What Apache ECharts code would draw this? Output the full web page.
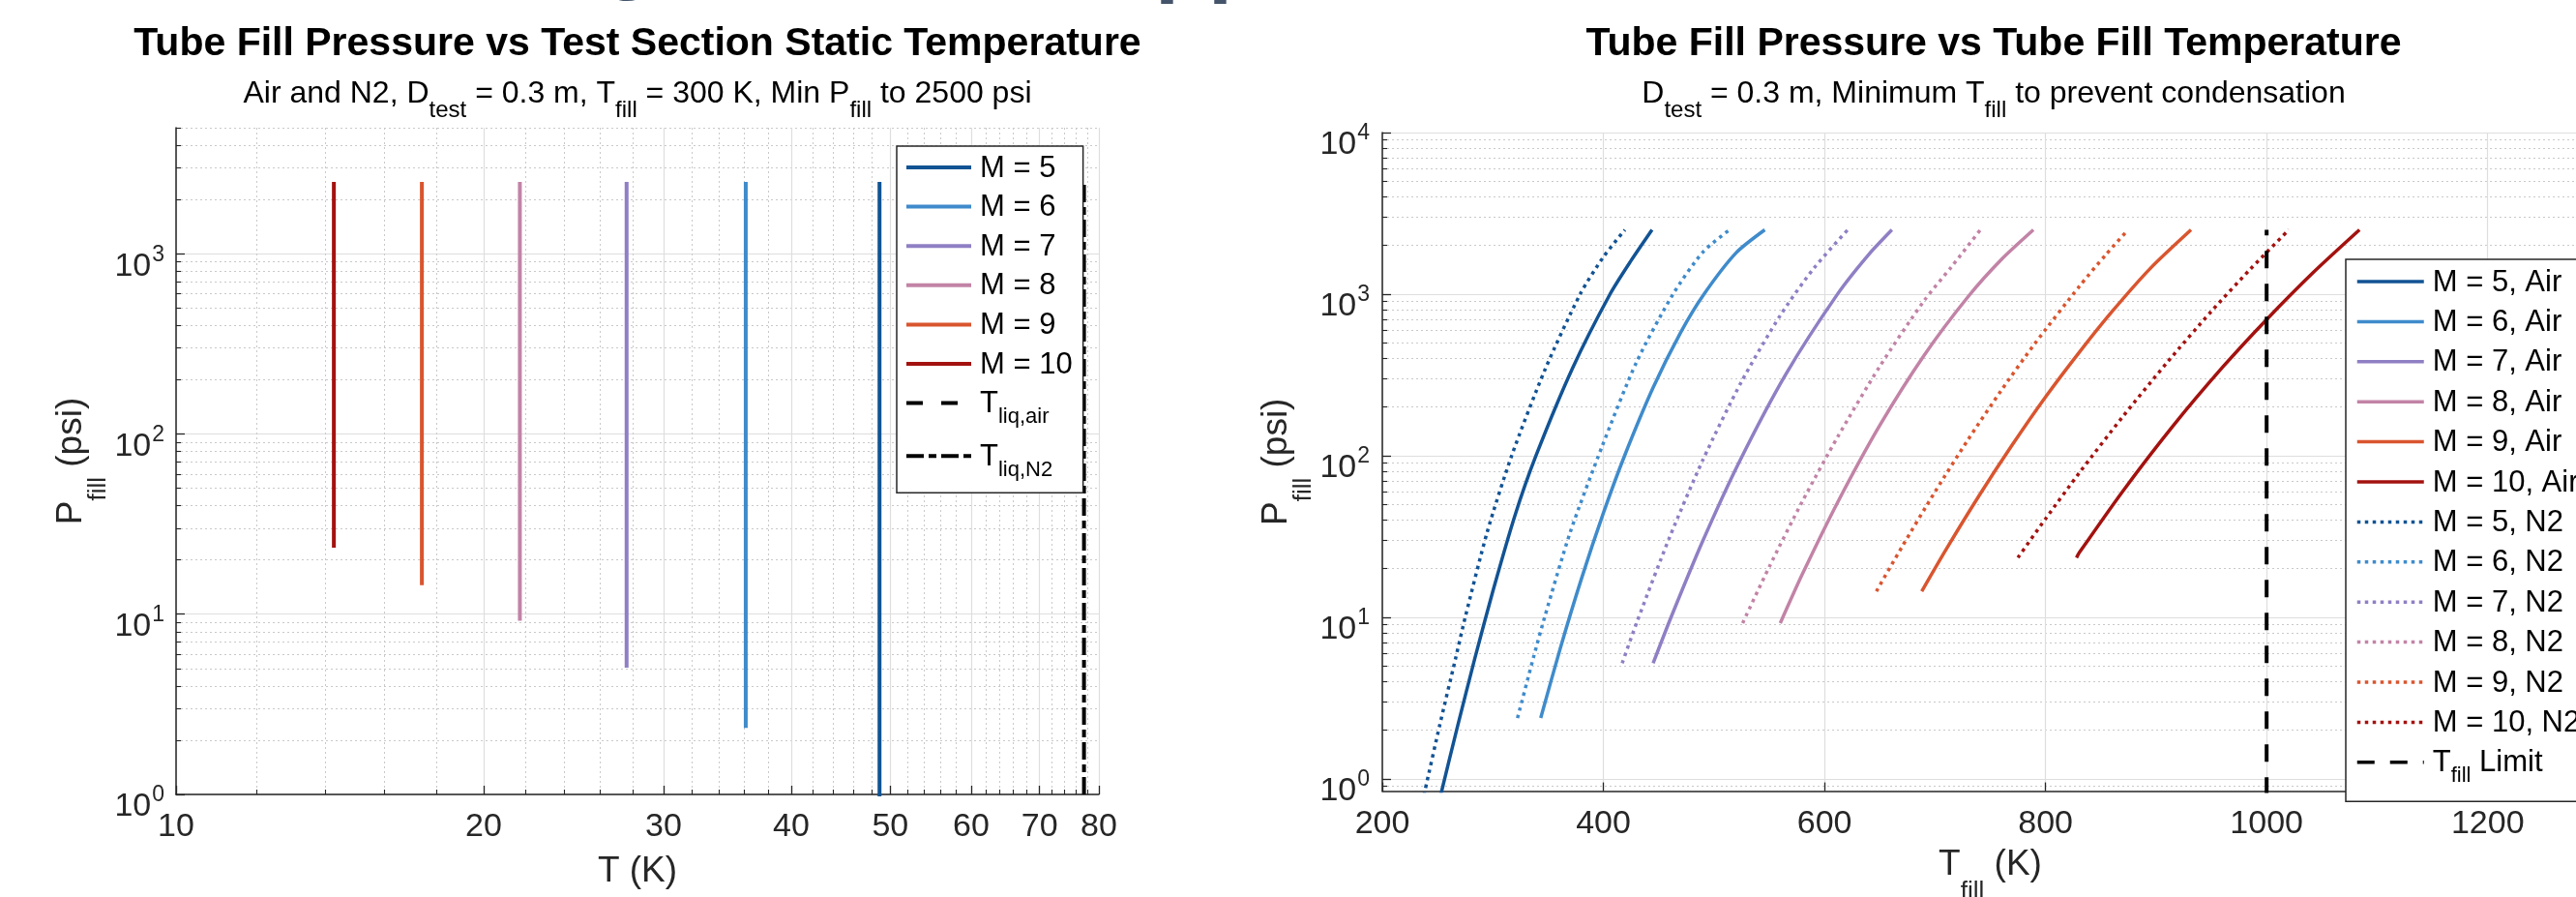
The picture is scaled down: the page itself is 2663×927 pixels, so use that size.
<!DOCTYPE html>
<html><head><meta charset="utf-8">
<script src="https://cdn.jsdelivr.net/npm/echarts@6/dist/echarts.min.js"></script>
<style>html,body{margin:0;padding:0;background:#fff}#c{width:2663px;height:927px}</style>
</head><body><div id="c"></div>
<script>
// ---------------- DATA ----------------
const machNumbers = [5, 6, 7, 8, 9, 10];
const machColors = ['#125394', '#3f8bcb', '#8f7fc4', '#c283a6', '#d9552f', '#a3120f'];
// Left chart: test-section static temperature (K) and fill-pressure range (psi)
const staticT = [48.8, 36.1, 27.6, 21.7, 17.4, 14.27];
const pMinFill = [0.6, 2.34, 5.05, 9.2, 14.5, 23.4];
const pMaxFill = [2500, 2500, 2500, 2500, 2500, 2500];
const tLiqAir = 81.6;
const tLiqN2 = 77.36;
const liqP = [1, 2500];
// Left axes ticks
const leftXMajor = [10, 20, 30, 40, 50, 60, 70, 80];
const leftXMinor = [12, 14, 16, 18, 22, 24, 26, 28, 32, 34, 36, 38, 42, 44, 46, 48, 52, 54, 56, 58, 62, 64, 66, 68, 72, 74, 76, 78];
const leftYMajor = [1, 10, 100, 1000];
const leftYMinor = [2, 3, 4, 5, 6, 7, 8, 9, 20, 30, 40, 50, 60, 70, 80, 90, 200, 300, 400, 500, 600, 700, 800, 900, 2000, 3000, 4000, 5000];

// Right chart: tube fill temperature (K) vs fill pressure (psi)
const m5AirT = [245, 253.7, 268, 283.7, 300, 320, 339, 372, 406, 425, 444];
const m5AirP = [0.475, 0.841, 2.11, 5.57, 14.5, 42.7, 100, 347, 1000, 1611, 2500];
const m6AirT = [343.3, 361, 380, 400, 419, 445, 470, 491, 520, 546];
const m6AirP = [2.38, 6.43, 17.2, 44.2, 99.3, 264, 581, 1000, 1800, 2500];
const m7AirT = [445, 461, 490, 523, 565, 612, 640, 661];
const m7AirP = [5.2, 9.93, 29.8, 91.8, 319, 1005, 1758, 2500];
const m8AirT = [560, 580, 612, 650, 690, 730, 760, 789];
const m8AirP = [9.2, 18.5, 51.6, 154, 417, 966, 1637, 2500];
const m9AirT = [688, 710, 740, 770, 800, 831, 860, 895, 931.6];
const m9AirP = [14.5, 26.3, 56.8, 117, 231, 441, 778, 1449, 2500];
const m10AirT = [828, 831, 870, 915, 960, 1000, 1042, 1084];
const m10AirP = [23.4, 25.4, 60.5, 152, 352, 697, 1358, 2500];
const m5N2T = [230, 238.5, 252, 266.3, 275, 295, 317, 347, 379, 400, 419.5];
const m5N2P = [0.462, 0.841, 2.16, 5.57, 10, 33.9, 100, 339, 1000, 1698, 2500];
const m6N2T = [322.3, 337, 347, 370, 399, 430, 463, 490, 514];
const m6N2P = [2.38, 5.73, 10.1, 33.6, 115, 380, 1000, 1820, 2500];
const m7N2T = [417, 431, 460, 490, 525, 560, 590, 621];
const m7N2P = [5.2, 9.62, 31.4, 94.2, 288, 738, 1436, 2500];
const m8N2T = [526, 550, 580, 612, 650, 690, 715, 741];
const m8N2P = [9.2, 20.5, 52.2, 131, 357, 908, 1479, 2500];
const m9N2T = [647, 670, 700, 730, 760, 790, 830.8, 855, 874.6];
const m9N2P = [14.5, 27.2, 59.8, 126, 254, 491, 1122, 1770, 2500];
const m10N2T = [775, 800, 831, 870, 910, 950, 985, 1020];
const m10N2P = [23.4, 40.7, 79.1, 175, 378, 783, 1422, 2500];
const tFillLimit = 1000;
const limitP = [0.5, 2500];
// Right axes ticks
const rightXMajor = [200, 400, 600, 800, 1000, 1200];
const rightYMajor = [1, 10, 100, 1000, 10000];
const rightYMinor = [0.9, 2, 3, 4, 5, 6, 7, 8, 9, 20, 30, 40, 50, 60, 70, 80, 90, 200, 300, 400, 500, 600, 700, 800, 900, 2000, 3000, 4000, 5000, 6000, 7000, 8000, 9000];

// ---------------- STYLE ----------------
const FONT = '"Liberation Sans", Arial, Helvetica, sans-serif';
const INK = '#262626';
const MAJOR_GRID = {show: true, lineStyle: {color: '#dedede', width: 1.2}};
const MINOR_GRID = {show: true, lineStyle: {color: '#c9c9c9', width: 1, type: [2, 3]}};
const DOT = [3.5, 4.5];

function pairs(xs, ys) { return xs.map((x, i) => [x, ys[i]]); }
function legendRich(name) {
  if (name.indexOf('T_') === 0) {
    const rest = name.slice(2);
    const sp = rest.indexOf(' ');
    const sub = sp < 0 ? rest : rest.slice(0, sp);
    const tail = sp < 0 ? '' : rest.slice(sp);
    return '{m|T}{s|' + sub + '}' + (tail ? '{m|' + tail + '}' : '');
  }
  return '{m|' + name + '}';
}
const legendTextStyle = {
  padding: [0, 0, 0, 4],
  rich: {
    m: {fontSize: 31, lineHeight: 29, fontFamily: FONT, color: '#000', verticalAlign: 'top'},
    s: {fontSize: 22, lineHeight: 21, fontFamily: FONT, color: '#000', verticalAlign: 'top', padding: [18, 0, 5, 0]}
  }
};
const powRich = {
  b: {fontSize: 34, lineHeight: 34, fontFamily: FONT, color: INK, verticalAlign: 'top', padding: [13, 0, 0, 0]},
  s: {fontSize: 23, lineHeight: 22, fontFamily: FONT, color: INK, verticalAlign: 'top', padding: [6.5, 0, 0, 1]}
};
function powFmt(v) { return '{b|10}{s|' + Math.round(Math.log10(v)) + '}'; }
const nameRich = {
  m: {fontSize: 37, lineHeight: 37, fontFamily: FONT, color: INK, verticalAlign: 'top'},
  s: {fontSize: 26, lineHeight: 26, fontFamily: FONT, color: INK, verticalAlign: 'top', padding: [33, 0, 0, 0]}
};
const subTitleRich = {
  m: {fontSize: 32, lineHeight: 31.5, fontFamily: FONT, fill: '#000', verticalAlign: 'top'},
  s: {fontSize: 24, lineHeight: 24, fontFamily: FONT, fill: '#000', verticalAlign: 'top', padding: [21, 0, 0, 0]}
};

function mainAxis(gridIndex, type, min, max, major, extra) {
  return Object.assign({
    type: type, gridIndex: gridIndex, min: min, max: max,
    axisLine: {show: true, lineStyle: {color: INK, width: 1.5}},
    axisTick: {show: true, inside: true, length: 9, customValues: major, lineStyle: {color: INK, width: 1.3}},
    axisLabel: {show: true, customValues: major, color: INK, fontSize: 34, fontFamily: FONT},
    splitLine: MAJOR_GRID,
    minorTick: {show: false}, minorSplitLine: {show: false}
  }, extra);
}
function minorAxis(gridIndex, type, min, max, minor, position) {
  return {
    type: type, gridIndex: gridIndex, min: min, max: max, position: position,
    axisLine: {show: false},
    axisTick: {show: true, inside: true, length: 5, customValues: minor, lineStyle: {color: INK, width: 1.1}},
    axisLabel: {show: false},
    splitLine: MINOR_GRID
  };
}

// ---------------- SERIES ----------------
const series = [];
machNumbers.forEach((m, i) => {
  series.push({
    name: 'M = ' + m, type: 'line', xAxisIndex: 0, yAxisIndex: 0,
    data: [[staticT[i], pMinFill[i]], [staticT[i], pMaxFill[i]]],
    symbol: 'none', lineStyle: {color: machColors[i], width: 4}, itemStyle: {color: machColors[i]}, z: 3
  });
});
series.push({name: 'T_liq,air', type: 'line', xAxisIndex: 0, yAxisIndex: 0,
  data: [[tLiqAir, liqP[0]], [tLiqAir, liqP[1]]], symbol: 'none',
  lineStyle: {color: '#000', width: 4, type: [17, 19]}, itemStyle: {color: '#000'}, z: 3});
series.push({name: 'T_liq,N2', type: 'line', xAxisIndex: 0, yAxisIndex: 0,
  data: [[tLiqN2, liqP[0]], [tLiqN2, liqP[1]]], symbol: 'none',
  lineStyle: {color: '#000', width: 4, type: [18, 5, 8, 5]}, itemStyle: {color: '#000'}, z: 3});

const airCurves = [[m5AirT, m5AirP], [m6AirT, m6AirP], [m7AirT, m7AirP], [m8AirT, m8AirP], [m9AirT, m9AirP], [m10AirT, m10AirP]];
const n2Curves = [[m5N2T, m5N2P], [m6N2T, m6N2P], [m7N2T, m7N2P], [m8N2T, m8N2P], [m9N2T, m9N2P], [m10N2T, m10N2P]];
airCurves.forEach((c, i) => {
  series.push({name: 'M = ' + machNumbers[i] + ', Air', type: 'line', xAxisIndex: 2, yAxisIndex: 2,
    data: pairs(c[0], c[1]), symbol: 'none', smooth: 0.25,
    lineStyle: {color: machColors[i], width: 3.5}, itemStyle: {color: machColors[i]}, z: 3});
});
n2Curves.forEach((c, i) => {
  series.push({name: 'M = ' + machNumbers[i] + ', N2', type: 'line', xAxisIndex: 2, yAxisIndex: 2,
    data: pairs(c[0], c[1]), symbol: 'none', smooth: 0.25,
    lineStyle: {color: machColors[i], width: 3.5, type: DOT, cap: 'butt'}, itemStyle: {color: machColors[i]}, z: 3});
});
series.push({name: 'T_fill Limit', type: 'line', xAxisIndex: 2, yAxisIndex: 2,
  data: [[tFillLimit, limitP[0]], [tFillLimit, limitP[1]]], symbol: 'none',
  lineStyle: {color: '#000', width: 4, type: [18, 16]}, itemStyle: {color: '#000'}, z: 3});

const leftLegendNames = machNumbers.map(m => 'M = ' + m).concat(['T_liq,air', 'T_liq,N2']);
const rightLegendNames = machNumbers.map(m => 'M = ' + m + ', Air')
  .concat(machNumbers.map(m => 'M = ' + m + ', N2')).concat(['T_fill Limit']);

// ---------------- OPTION ----------------
const option = {
  animation: false,
  backgroundColor: '#fff',
  textStyle: {fontFamily: FONT},
  grid: [
    {left: 182, top: 132, width: 954, height: 689, containLabel: false, outerBoundsMode: 'none'},
    {left: 1429, top: 137, width: 1257, height: 680.6, containLabel: false, outerBoundsMode: 'none'}
  ],
  xAxis: [
    mainAxis(0, 'log', 10, 80, leftXMajor, {position: 'bottom',
      axisLabel: {show: true, customValues: leftXMajor, color: INK, fontSize: 34, lineHeight: 34, fontFamily: FONT, margin: 17, formatter: v => String(Math.round(v))},
      name: '{m|T (K)}', nameLocation: 'middle', nameGap: 61, nameTextStyle: {rich: nameRich}}),
    minorAxis(0, 'log', 10, 80, leftXMinor, 'bottom'),
    mainAxis(1, 'value', 200, 1300, rightXMajor, {position: 'bottom',
      axisLabel: {show: true, customValues: rightXMajor, color: INK, fontSize: 34, lineHeight: 34, fontFamily: FONT, margin: 17, formatter: v => String(Math.round(v))},
      name: '{m|T}{s|fill}{m| (K)}', nameLocation: 'middle', nameGap: 58, nameTextStyle: {rich: nameRich}})
  ],
  yAxis: [
    mainAxis(0, 'log', 1, 5000, leftYMajor, {position: 'left',
      axisLabel: {show: true, customValues: leftYMajor, margin: 12, formatter: powFmt, rich: powRich},
      name: '{m|P}{s|fill}{m| (psi)}', nameLocation: 'middle', nameRotate: 90, nameGap: 81, nameTextStyle: {rich: nameRich}}),
    minorAxis(0, 'log', 1, 5000, leftYMinor, 'left'),
    mainAxis(1, 'log', 0.84, 10000, rightYMajor, {position: 'left',
      axisLabel: {show: true, customValues: rightYMajor, margin: 13, formatter: powFmt, rich: powRich},
      name: '{m|P}{s|fill}{m| (psi)}', nameLocation: 'middle', nameRotate: 90, nameGap: 86, nameTextStyle: {rich: nameRich}}),
    minorAxis(1, 'log', 0.84, 10000, rightYMinor, 'left')
  ],
  legend: [
    {data: leftLegendNames, orient: 'vertical', left: 927, top: 151, selectedMode: false,
      itemWidth: 67, itemHeight: 14, itemGap: 9.6, padding: [7.5, 11, 7.5, 8],
      backgroundColor: '#fff', borderColor: INK, borderWidth: 1.5, borderRadius: 0,
      itemStyle: {opacity: 0, borderWidth: 0}, lineStyle: {width: 4, opacity: 1},
      formatter: legendRich, textStyle: legendTextStyle, z: 10},
    {data: rightLegendNames, orient: 'vertical', left: 2425, top: 268, selectedMode: false,
      itemWidth: 69, itemHeight: 14, itemGap: 10.4, padding: [8.5, 30, 10, 10],
      backgroundColor: '#fff', borderColor: INK, borderWidth: 1.5, borderRadius: 0,
      itemStyle: {opacity: 0, borderWidth: 0}, lineStyle: {width: 3.5, opacity: 1},
      formatter: legendRich, textStyle: legendTextStyle, z: 10}
  ],
  graphic: [
    // descender fragments of the slide heading that is cropped off above the charts
    {type: 'text', x: 622, y: 2, z: 20, style: {text: 'g', fontSize: 90, fontWeight: 'bold', fontFamily: FONT,
      fill: '#44546a', align: 'left', verticalAlign: 'bottom'}},
    {type: 'text', x: 1194, y: 5, z: 20, style: {text: 'pp', fontSize: 90, fontWeight: 'bold', fontFamily: FONT,
      fill: '#44546a', align: 'left', verticalAlign: 'bottom'}},
    {type: 'text', x: 659, y: 26, z: 20, style: {text: 'Tube Fill Pressure vs Test Section Static Temperature',
      fontSize: 41, lineHeight: 40, fontWeight: 'bold', fontFamily: FONT, fill: '#000', align: 'center', verticalAlign: 'top'}},
    {type: 'text', x: 659, y: 81.5, z: 20, style: {
      text: '{m|Air and N2, D}{s|test}{m| = 0.3 m, T}{s|fill}{m| = 300 K, Min P}{s|fill}{m| to 2500 psi}',
      rich: subTitleRich, fontSize: 32, fontFamily: FONT, fill: '#000', align: 'center', verticalAlign: 'top'}},
    {type: 'text', x: 2061, y: 26, z: 20, style: {text: 'Tube Fill Pressure vs Tube Fill Temperature',
      fontSize: 41, lineHeight: 40, fontWeight: 'bold', fontFamily: FONT, fill: '#000', align: 'center', verticalAlign: 'top'}},
    {type: 'text', x: 2061, y: 81.5, z: 20, style: {
      text: '{m|D}{s|test}{m| = 0.3 m, Minimum T}{s|fill}{m| to prevent condensation}',
      rich: subTitleRich, fontSize: 32, fontFamily: FONT, fill: '#000', align: 'center', verticalAlign: 'top'}}
  ],
  series: series
};
const chart = echarts.init(document.getElementById('c'), null, {renderer: 'canvas', width: 2663, height: 927});
chart.setOption(option);
</script></body></html>
